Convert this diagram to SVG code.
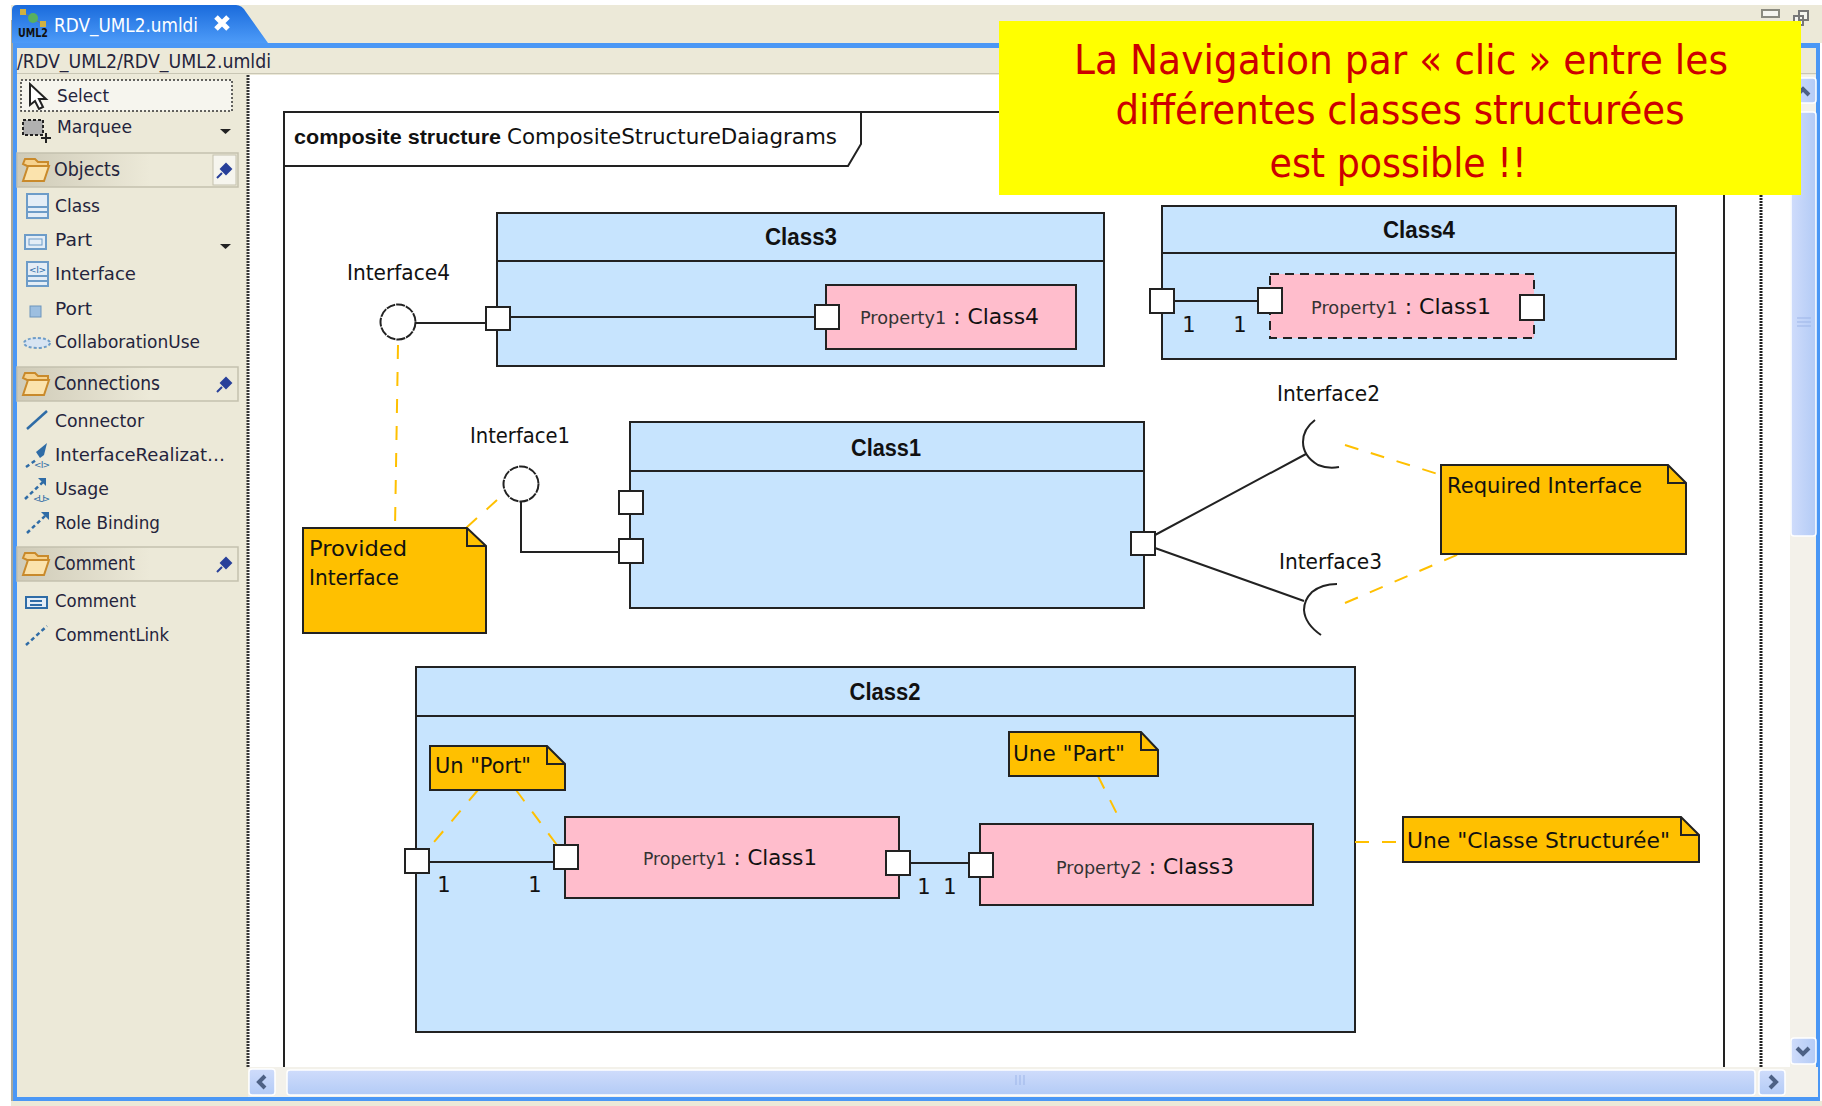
<svg xmlns="http://www.w3.org/2000/svg" width="1822" height="1106" viewBox="0 0 1822 1106">
<style>
text{font-family:"DejaVu Sans","Liberation Sans",sans-serif;fill:#111}
.t{font-size:21px}
.b{font-size:21px;font-weight:bold;font-family:"Liberation Sans","DejaVu Sans",sans-serif}
.c{font-size:23px;font-weight:bold;text-anchor:middle;font-family:"Liberation Sans","DejaVu Sans",sans-serif}
.p{font-size:18px;fill:#24243c}
.h{font-size:19px;fill:#24243c}
.s{font-size:17px;fill:#333}
.y{font-size:41px;fill:#cc0000;text-anchor:middle}
.box{fill:#c7e4fe;stroke:#222;stroke-width:2}
.part{fill:#ffbdcc;stroke:#222;stroke-width:2}
.port{fill:#fff;stroke:#222;stroke-width:2}
.note{fill:#ffc000;stroke:#222;stroke-width:2}
.fold{fill:none;stroke:#222;stroke-width:2}
.ln{fill:none;stroke:#222;stroke-width:2}
.dash{fill:none;stroke:#ffc000;stroke-width:2;stroke-dasharray:14 13}
.ifc{fill:#fff;stroke:#222;stroke-width:2;stroke-dasharray:9 1}
.ico{fill:#e4edf6;stroke:#6d9cc8;stroke-width:2}
.ilk{fill:none;stroke:#2f6ca6;stroke-width:2.5}
.sb{fill:url(#sbg);stroke:#fff;stroke-width:1.5}
.sbv{fill:url(#sbv);stroke:#fff;stroke-width:1.5}
.arr{fill:none;stroke:#4d6185;stroke-width:4}
.hd{fill:url(#hdg);stroke:#c4c1ae;stroke-width:1.5}
</style>
<defs>
<linearGradient id="tab" x1="0" y1="0" x2="0" y2="1"><stop offset="0" stop-color="#1a6bdc"/><stop offset="1" stop-color="#4d9bf8"/></linearGradient>
<linearGradient id="hdg" x1="0" y1="0" x2="1" y2="0"><stop offset="0" stop-color="#cfcbb8"/><stop offset="0.6" stop-color="#ece9d8"/></linearGradient>
<linearGradient id="sbg" x1="0" y1="0" x2="0" y2="1"><stop offset="0" stop-color="#cfdcfb"/><stop offset="1" stop-color="#b3cbf6"/></linearGradient>
<linearGradient id="sbv" x1="0" y1="0" x2="1" y2="0"><stop offset="0" stop-color="#cfdcfb"/><stop offset="1" stop-color="#b3cbf6"/></linearGradient>
<g id="folder"><path d="M23 21l2-5h10l3 3h10v4H32l-3 1z" fill="#f6d28e" stroke="#c98a2b" stroke-width="2"/><path d="M23 38l5-15h21l-5 15z" fill="#fbe3ad" stroke="#c98a2b" stroke-width="2"/></g>
<g id="pin"><path d="M1-1l5-5 5 5-5 5zM2 3l-5 5" fill="#28409a" stroke="#28409a" stroke-width="2"/></g>
<path id="drop" d="M220 129h11l-5.500 5z" fill="#222"/>
</defs>

<rect width="1822" height="1106" fill="#fff"/>
<g id="window">
<rect x="11" y="5" width="1811" height="38" fill="#ece9d8"/>
<rect x="11" y="43" width="1809" height="1058" fill="#4a97f5"/>
<rect x="11" y="20" width="2" height="1083" fill="#a9a99c"/>
<rect x="11" y="1101" width="1811" height="5" fill="#ece9d8"/>
<path d="M12 43V10q0-5 5-5H236q6 0 10 7l22 31z" fill="url(#tab)"/>
<rect x="17" y="48" width="1799" height="25" fill="#ece9d8"/>
<rect x="17" y="73" width="1799" height="1" fill="#c9c6b4"/>
<rect x="17" y="74" width="1799" height="1023" fill="#ece9d8"/>
<rect x="248" y="75" width="1542" height="992" fill="#fff"/>
<text x="54" y="32" textLength="144" lengthAdjust="spacingAndGlyphs" style="font-size:19px;fill:#fff">RDV_UML2.umldi</text>
<path d="M216 17l12 12M228 17l-12 12" stroke="#fff" stroke-width="5"/>
<g id="umlicon"><path d="M23 12l10 7 10 5" stroke="#777" fill="none"/><rect x="20" y="9" width="6" height="6" fill="#d0b040"/><circle cx="33" cy="18" r="5" fill="#58b060"/><rect x="40" y="21" width="6" height="6" fill="#d0b040"/><text x="18" y="37" textLength="30" lengthAdjust="spacingAndGlyphs" style="font-size:12px;font-weight:bold;fill:#111">UML2</text></g>
<text x="17" y="68" textLength="254" lengthAdjust="spacingAndGlyphs" class="h">/RDV_UML2/RDV_UML2.umldi</text>
<rect x="1762" y="10" width="17" height="7" fill="#f5f5f0" stroke="#8a8a80" stroke-width="2"/>
<path d="M1799 11h9v9h-9zM1794 16h9v9h-9z" fill="#f5f5f0" stroke="#777" stroke-width="2"/>
</g>

<g id="palette">
<line x1="248" y1="75" x2="248" y2="1067" stroke="#333" stroke-width="3" stroke-dasharray="2 1"/>
<line x1="1761" y1="75" x2="1761" y2="1067" stroke="#222" stroke-width="3" stroke-dasharray="2 1"/>
<rect x="21" y="80" width="211" height="31" fill="#f6f5ee" stroke="#333" stroke-dasharray="2 2" stroke-width="1.500"/>
<path d="M30 84v21l5-4 4 8 4-2-4-8h7z" fill="#fff" stroke="#222" stroke-width="2"/>
<text x="57" y="102" textLength="52" lengthAdjust="spacingAndGlyphs" class="p">Select</text>
<rect x="23" y="120" width="20" height="15" fill="#b0b0b0" stroke="#222" stroke-dasharray="3 2" stroke-width="2"/>
<path d="M46 133v10M41 138h10" stroke="#222" stroke-width="2"/>
<text x="57" y="133" textLength="75" lengthAdjust="spacingAndGlyphs" class="p">Marquee</text>
<use href="#drop"/>
<rect x="17" y="153" width="221" height="34" class="hd"/>
<use href="#folder" y="143"/>
<rect x="213" y="155" width="23" height="30" fill="#f6f5ee" stroke="#c4c1ae"/>
<use href="#pin" x="220" y="170"/>
<text x="54" y="176" textLength="66" lengthAdjust="spacingAndGlyphs" class="h">Objects</text>
<rect x="27" y="194" width="21" height="24" class="ico"/><path d="M27 207h21M27 212h21" stroke="#6d9cc8" stroke-width="2"/>
<text x="55" y="212" textLength="45" lengthAdjust="spacingAndGlyphs" class="p">Class</text>
<rect x="25" y="235" width="21" height="14" class="ico"/><rect x="29" y="239" width="13" height="6" fill="none" stroke="#6d9cc8"/>
<text x="55" y="246" textLength="37" lengthAdjust="spacingAndGlyphs" class="p">Part</text>
<use href="#drop" y="115"/>
<rect x="27" y="262" width="21" height="24" class="ico"/><path d="M27 276h21M27 281h21" stroke="#6d9cc8" stroke-width="2"/><text x="29" y="273" style="font-size:9px;fill:#2f6ca6" textLength="17">&lt;I&gt;</text>
<text x="55" y="280" textLength="81" lengthAdjust="spacingAndGlyphs" class="p">Interface</text>
<rect x="30" y="306" width="11" height="11" fill="#9dbfe0" stroke="#6d95bc"/>
<text x="55" y="315" textLength="37" lengthAdjust="spacingAndGlyphs" class="p">Port</text>
<ellipse cx="37" cy="343" rx="13" ry="5" fill="#d7e4f2" stroke="#6d9cc8" stroke-width="2" stroke-dasharray="3 2"/>
<text x="55" y="348" textLength="145" lengthAdjust="spacingAndGlyphs" class="p">CollaborationUse</text>
<rect x="17" y="367" width="221" height="34" class="hd"/>
<use href="#folder" y="357"/>
<use href="#pin" x="220" y="384"/>
<text x="54" y="390" textLength="106" lengthAdjust="spacingAndGlyphs" class="h">Connections</text>
<path d="M27 429l20-18" class="ilk"/>
<text x="55" y="427" textLength="89" lengthAdjust="spacingAndGlyphs" class="p">Connector</text>
<path d="M26 467l10-7" class="ilk" stroke-dasharray="4 3"/><path d="M36 452l11-9-3 12-4 3z" fill="#2f6ca6"/><text x="34" y="468" style="font-size:9px;fill:#2f6ca6" textLength="16">&lt;I&gt;</text>
<text x="55" y="461" textLength="170" lengthAdjust="spacingAndGlyphs" class="p">InterfaceRealizat…</text>
<path d="M25 499l19-18" class="ilk" stroke-dasharray="4 3"/><path d="M38 478h8v8z" fill="#2f6ca6"/><text x="33" y="502" style="font-size:9px;fill:#2f6ca6" textLength="17">&lt;U&gt;</text>
<text x="55" y="495" textLength="54" lengthAdjust="spacingAndGlyphs" class="p">Usage</text>
<path d="M27 533l20-19" class="ilk" stroke-dasharray="4 3"/><path d="M41 512h8v8z" fill="#2f6ca6"/>
<text x="55" y="529" textLength="105" lengthAdjust="spacingAndGlyphs" class="p">Role Binding</text>
<rect x="17" y="547" width="221" height="34" class="hd"/>
<use href="#folder" y="537"/>
<use href="#pin" x="220" y="564"/>
<text x="54" y="570" textLength="81" lengthAdjust="spacingAndGlyphs" class="h">Comment</text>
<path d="M26 597h21v11H26zM30 601h12M30 605h12" fill="#e4edf6" stroke="#2f6ca6" stroke-width="2"/>
<text x="55" y="607" textLength="81" lengthAdjust="spacingAndGlyphs" class="p">Comment</text>
<path d="M26 645l21-19" class="ilk" stroke-dasharray="4 3"/>
<text x="55" y="641" textLength="114" lengthAdjust="spacingAndGlyphs" class="p">CommentLink</text>
</g>

<g id="scrollbars">
<rect x="1790" y="75" width="26" height="992" fill="#f3f1ea"/>
<rect x="248" y="1067" width="1570" height="30" fill="#f3f1ea"/>
<rect x="1791" y="78" width="25" height="25" rx="3" class="sbv"/>
<path d="M1797 95l6-6 6 6" class="arr"/>
<rect x="1791" y="112" width="25" height="424" rx="3" class="sbv"/>
<path d="M1797 318h14M1797 322h14M1797 326h14" stroke="#9db5e8"/>
<rect x="1791" y="1038" width="25" height="26" rx="3" class="sbv"/>
<path d="M1797 1048l6 6 6-6" class="arr"/>
<rect x="249" y="1069" width="26" height="26" rx="3" class="sb"/>
<path d="M265 1076l-6 6 6 6" class="arr"/>
<rect x="287" y="1070" width="1468" height="25" rx="3" class="sb"/>
<path d="M1016 1075v10M1020 1075v10M1024 1075v10" stroke="#9db5e8"/>
<rect x="1759" y="1070" width="26" height="25" rx="3" class="sb"/>
<path d="M1770 1076l6 6-6 6" class="arr"/>
</g>

<g id="frame">
<path d="M284 1067V112H1724V1067" fill="none" stroke="#222" stroke-width="2"/>
<path d="M284 166H848L861 144V112" fill="none" stroke="#222" stroke-width="2"/>
<text x="294" y="144" textLength="207" lengthAdjust="spacingAndGlyphs" class="b">composite structure</text>
<text x="507" y="144" textLength="330" lengthAdjust="spacingAndGlyphs" class="t">CompositeStructureDaiagrams</text>
</g>

<g id="Class3">
<rect x="497" y="213" width="607" height="153" class="box"/><line x1="497" y1="261" x2="1104" y2="261" class="ln"/>
<text x="801" y="245" class="c" textLength="72" lengthAdjust="spacingAndGlyphs">Class3</text>
<rect x="826" y="285" width="250" height="64" class="part"/>
<text x="860" y="324" textLength="179" lengthAdjust="spacingAndGlyphs" class="t"><tspan class="s">Property1</tspan> : Class4</text>
</g>
<g id="Class4">
<rect x="1162" y="206" width="514" height="153" class="box"/><line x1="1162" y1="253" x2="1676" y2="253" class="ln"/>
<text x="1419" y="238" class="c" textLength="72" lengthAdjust="spacingAndGlyphs">Class4</text>
<rect x="1270" y="274" width="264" height="64" class="part" stroke-dasharray="9 6"/>
<text x="1311" y="314" textLength="180" lengthAdjust="spacingAndGlyphs" class="t"><tspan class="s">Property1</tspan> : Class1</text>
<text x="1189" y="332" class="t" text-anchor="middle">1</text><text x="1240" y="332" class="t" text-anchor="middle">1</text>
</g>
<g id="Class1">
<rect x="630" y="422" width="514" height="186" class="box"/><line x1="630" y1="471" x2="1144" y2="471" class="ln"/>
<text x="886" y="456" class="c" textLength="70" lengthAdjust="spacingAndGlyphs">Class1</text>
</g>
<g id="Class2">
<rect x="416" y="667" width="939" height="365" class="box"/><line x1="416" y1="716" x2="1355" y2="716" class="ln"/>
<text x="885" y="700" class="c" textLength="71" lengthAdjust="spacingAndGlyphs">Class2</text>
<rect x="565" y="817" width="334" height="81" class="part"/>
<text x="643" y="865" textLength="174" lengthAdjust="spacingAndGlyphs" class="t"><tspan class="s">Property1</tspan> : Class1</text>
<rect x="980" y="824" width="333" height="81" class="part"/>
<text x="1056" y="874" textLength="178" lengthAdjust="spacingAndGlyphs" class="t"><tspan class="s">Property2</tspan> : Class3</text>
<text x="444" y="892" class="t" text-anchor="middle">1</text><text x="535" y="892" class="t" text-anchor="middle">1</text>
<text x="924" y="894" class="t" text-anchor="middle">1</text><text x="950" y="894" class="t" text-anchor="middle">1</text>
</g>

<g id="connectors">
<path d="M416 323H486M510 317H815" class="ln"/>
<path d="M1175 301H1258" class="ln"/>
<path d="M521 502V552H619" class="ln"/>
<path d="M1155 535L1306 454M1155 548L1304 601" class="ln"/>
<path d="M429 862H554M910 863H969" class="ln"/>
<path d="M398 345L395 528M497 500L466 528M1345 445L1441 475M1345 603L1459 554M478 790L429 848M516 790L557 845M1098 776L1121 822M1355 842H1403" class="dash"/>
</g>

<g id="ports">
<rect x="486" y="307" width="24" height="23" class="port"/>
<rect x="815" y="305" width="24" height="24" class="port"/>
<rect x="1150" y="289" width="24" height="24" class="port"/>
<rect x="1258" y="288" width="24" height="25" class="port"/>
<rect x="1520" y="295" width="24" height="25" class="port"/>
<rect x="619" y="491" width="24" height="23" class="port"/>
<rect x="619" y="539" width="24" height="24" class="port"/>
<rect x="1131" y="532" width="24" height="23" class="port"/>
<rect x="405" y="849" width="24" height="24" class="port"/>
<rect x="554" y="845" width="24" height="24" class="port"/>
<rect x="886" y="851" width="24" height="24" class="port"/>
<rect x="969" y="853" width="24" height="24" class="port"/>
</g>

<g id="Interface4"><circle cx="398" cy="322" r="17.500" class="ifc"/><text x="347" y="280" textLength="103" lengthAdjust="spacingAndGlyphs" class="t">Interface4</text></g>
<g id="Interface1"><circle cx="521" cy="484" r="17.500" class="ifc"/><text x="470" y="443" textLength="100" lengthAdjust="spacingAndGlyphs" class="t">Interface1</text></g>
<g id="Interface2"><path d="M1315 420Q1303 429 1303 442Q1303 456 1318 465Q1328 469 1339 467" class="ln"/><text x="1277" y="401" textLength="103" lengthAdjust="spacingAndGlyphs" class="t">Interface2</text></g>
<g id="Interface3"><path d="M1337 584Q1322 584 1312 592Q1304 600 1304 610Q1305 624 1321 635" class="ln"/><text x="1279" y="569" textLength="103" lengthAdjust="spacingAndGlyphs" class="t">Interface3</text></g>

<g id="note-provided"><path d="M303 528H467L486 546V633H303Z" class="note"/><path d="M467 528V546H486" class="fold"/>
<text x="309" y="556" textLength="98" lengthAdjust="spacingAndGlyphs" class="t">Provided</text><text x="309" y="585" textLength="90" lengthAdjust="spacingAndGlyphs" class="t">Interface</text></g>
<g id="note-required"><path d="M1441 465H1668L1686 483V554H1441Z" class="note"/><path d="M1668 465V483H1686" class="fold"/>
<text x="1447" y="493" textLength="195" lengthAdjust="spacingAndGlyphs" class="t">Required Interface</text></g>
<g id="note-port"><path d="M430 746H547L565 764V790H430Z" class="note"/><path d="M547 746V764H565" class="fold"/>
<text x="435" y="773" textLength="96" lengthAdjust="spacingAndGlyphs" class="t">Un "Port"</text></g>
<g id="note-part"><path d="M1009 732H1141L1158 750V776H1009Z" class="note"/><path d="M1141 732V750H1158" class="fold"/>
<text x="1013" y="761" textLength="112" lengthAdjust="spacingAndGlyphs" class="t">Une "Part"</text></g>
<g id="note-classe"><path d="M1403 817H1681L1699 835V862H1403Z" class="note"/><path d="M1681 817V835H1699" class="fold"/>
<text x="1407" y="848" textLength="263" lengthAdjust="spacingAndGlyphs" class="t">Une "Classe Structurée"</text></g>

<g id="banner">
<rect x="999" y="21" width="802" height="174" fill="#ffff00"/>
<text x="1401" y="74" class="y" textLength="654" lengthAdjust="spacingAndGlyphs">La Navigation par « clic » entre les</text>
<text x="1400" y="124" class="y" textLength="569" lengthAdjust="spacingAndGlyphs">différentes classes structurées</text>
<text x="1398" y="177" class="y" textLength="257" lengthAdjust="spacingAndGlyphs">est possible !!</text>
</g>
</svg>
